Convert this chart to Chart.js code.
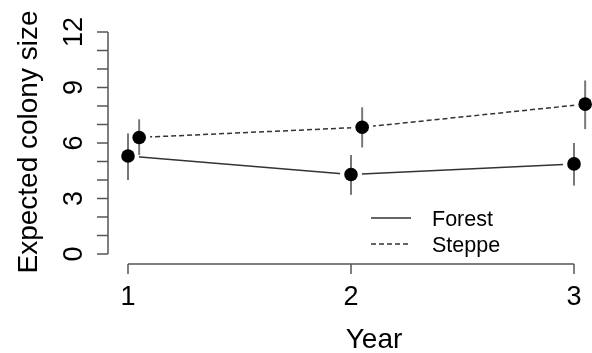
<!DOCTYPE html>
<html>
<head>
<meta charset="utf-8">
<title>Expected colony size</title>
<script src="https://cdn.jsdelivr.net/npm/chart.js@4/dist/chart.umd.min.js"></script>
<style>
    body { margin: 0; background: #fff; }
    canvas { display: block; }
</style>
</head>
<body>
<canvas id="grafico" width="592" height="353"></canvas>
<script>
// Data
const years = [1, 2, 3];
const steppeOffset = 0.05;
const forestMean = [5.3, 4.3, 4.87];
const forestLow = [4.0, 3.2, 3.7];
const forestHigh = [6.52, 5.35, 6.0];
const steppeMean = [6.3, 6.85, 8.1];
const steppeLow = [5.35, 5.76, 6.75];
const steppeHigh = [7.28, 7.93, 9.38];

// Axis ticks
const xTicks = [1, 2, 3];
const yTicks = [0, 1, 2, 3, 4, 5, 6, 7, 8, 9, 10, 11, 12];
const yLabels = [0, 3, 6, 9, 12];

const fonte = '"Liberation Sans", Arial, Helvetica, sans-serif';
const corEixo = '#555';
const corLinha = '#333';
const corErro = '#777';

function pontos(xs, ys, desloc) {
    return xs.map((x, i) => ({ x: x + desloc, y: ys[i] }));
}

const forestPts = pontos(years, forestMean, 0);
const steppePts = pontos(years, steppeMean, steppeOffset);

// Error bars, drawn just before the black points of each series
const barrasErro = {
    id: 'barrasErro',
    beforeDatasetDraw(chart, args) {
        const ds = chart.data.datasets[args.index];
        if (!ds.erros) return;
        const { x, y } = chart.scales;
        const ctx = chart.ctx;
        ctx.save();
        ctx.strokeStyle = corErro;
        ctx.lineWidth = 2;
        ds.data.forEach((p, i) => {
            const px = x.getPixelForValue(p.x);
            ctx.beginPath();
            ctx.moveTo(px, y.getPixelForValue(ds.erros.low[i]));
            ctx.lineTo(px, y.getPixelForValue(ds.erros.high[i]));
            ctx.stroke();
        });
        ctx.restore();
    }
};

// R style axes, titles and legend
const eixosR = {
    id: 'eixosR',
    afterDraw(chart) {
        const { x, y } = chart.scales;
        const area = chart.chartArea;
        const ctx = chart.ctx;
        ctx.save();
        ctx.strokeStyle = corEixo;
        ctx.lineWidth = 1.5;
        ctx.fillStyle = '#000';

        // y axis
        const ax = area.left;
        ctx.beginPath();
        ctx.moveTo(ax, y.getPixelForValue(yTicks[0]));
        ctx.lineTo(ax, y.getPixelForValue(yTicks[yTicks.length - 1]));
        yTicks.forEach(v => {
            const py = y.getPixelForValue(v);
            ctx.moveTo(ax, py);
            ctx.lineTo(ax - 11, py);
        });
        ctx.stroke();

        ctx.font = '27px ' + fonte;
        ctx.textAlign = 'center';
        ctx.textBaseline = 'alphabetic';
        yLabels.forEach(v => {
            ctx.save();
            ctx.translate(82, y.getPixelForValue(v));
            ctx.rotate(-Math.PI / 2);
            ctx.fillText(String(v), 0, 0);
            ctx.restore();
        });

        // x axis
        const ay = area.bottom + 1;
        ctx.beginPath();
        ctx.moveTo(x.getPixelForValue(xTicks[0]), ay);
        ctx.lineTo(x.getPixelForValue(xTicks[xTicks.length - 1]), ay);
        xTicks.forEach(v => {
            const px = x.getPixelForValue(v);
            ctx.moveTo(px, ay);
            ctx.lineTo(px, ay + 10);
        });
        ctx.stroke();
        xTicks.forEach(v => {
            ctx.fillText(String(v), x.getPixelForValue(v), 305);
        });

        // titles
        ctx.font = '28px ' + fonte;
        ctx.fillText('Year', 374, 348);
        ctx.save();
        ctx.translate(37, 142);
        ctx.rotate(-Math.PI / 2);
        ctx.fillText('Expected colony size', 0, 0);
        ctx.restore();

        // legend
        ctx.strokeStyle = corLinha;
        ctx.lineWidth = 1.5;
        ctx.beginPath();
        ctx.moveTo(371, 218);
        ctx.lineTo(411, 218);
        ctx.stroke();
        ctx.setLineDash([5, 3]);
        ctx.beginPath();
        ctx.moveTo(371, 244);
        ctx.lineTo(411, 244);
        ctx.stroke();
        ctx.setLineDash([]);
        ctx.font = '21.5px ' + fonte;
        ctx.textAlign = 'left';
        ctx.fillText('Forest', 432, 226);
        ctx.fillText('Steppe', 432, 252);
        ctx.restore();
    }
};

const ctx = document.getElementById('grafico').getContext('2d');
const grafico = new Chart(ctx, {
    type: 'scatter',
    data: {
        datasets: [
            {
                // black points on top
                label: 'Forest points',
                data: forestPts,
                erros: { low: forestLow, high: forestHigh },
                showLine: false,
                pointRadius: 6.8,
                pointBackgroundColor: '#000',
                pointBorderWidth: 0,
                order: 1,
                clip: false
            },
            {
                label: 'Steppe points',
                data: steppePts,
                erros: { low: steppeLow, high: steppeHigh },
                showLine: false,
                pointRadius: 6.8,
                pointBackgroundColor: '#000',
                pointBorderWidth: 0,
                order: 1,
                clip: false
            },
            {
                // lines with a white gap round each point (type "b")
                label: 'Forest',
                data: forestPts,
                showLine: true,
                borderColor: corLinha,
                borderWidth: 1.5,
                pointRadius: 11,
                pointBackgroundColor: '#fff',
                pointBorderWidth: 0,
                order: 3,
                clip: false
            },
            {
                label: 'Steppe',
                data: steppePts,
                showLine: true,
                borderColor: corLinha,
                borderWidth: 1.5,
                borderDash: [5, 3],
                pointRadius: 11,
                pointBackgroundColor: '#fff',
                pointBorderWidth: 0,
                order: 3,
                clip: false
            }
        ]
    },
    options: {
        responsive: false,
        animation: false,
        devicePixelRatio: 1,
        layout: {
            autoPadding: false,
            padding: { left: 108, right: 0, top: 23, bottom: 90 }
        },
        plugins: {
            legend: { display: false },
            tooltip: { enabled: false }
        },
        scales: {
            x: { type: 'linear', min: 0.9103, max: 3.0807, display: false },
            y: { type: 'linear', min: -0.486, max: 12.486, display: false }
        }
    },
    plugins: [barrasErro, eixosR]
});
</script>
</body>
</html>
